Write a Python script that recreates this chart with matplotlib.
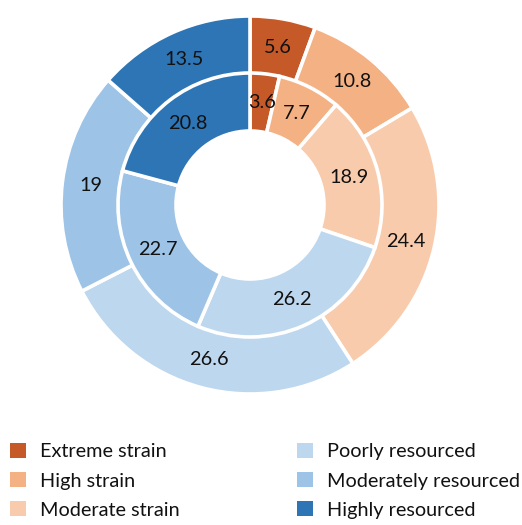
import matplotlib.pyplot as plt
from matplotlib.patches import Patch

plt.rcParams['font.family'] = ['Lato', 'DejaVu Sans']

categories = ["Extreme strain", "High strain", "Moderate strain",
              "Poorly resourced", "Moderately resourced", "Highly resourced"]
outer_vals = [5.6, 10.8, 24.4, 26.6, 19, 13.5]
inner_vals = [3.6, 7.7, 18.9, 26.2, 22.7, 20.8]
colors = ["#c55a28", "#f4b183", "#f8cbad", "#bdd7ee", "#9dc3e6", "#2e75b6"]

W, H = 522, 525
fig = plt.figure(figsize=(W / 100, H / 100), dpi=100)

# pie centre (250, 205) px from top-left, outer radius 189 px
cx, cy, R = 250, 205, 189
ax = fig.add_axes([(cx - R) / W, (H - cy - R) / H, 2 * R / W, 2 * R / H])

r_in = 132 / R
wedge = dict(edgecolor="white", linewidth=2.6)
txt = dict(fontsize=14.3, color="#111111", ha="center", va="center")

ax.pie(outer_vals, radius=1.0, colors=colors, startangle=90, counterclock=False,
       labels=[f"{v:g}" for v in outer_vals], labeldistance=0.847,
       textprops=txt, wedgeprops=dict(width=1 - r_in + 0.005, **wedge))
ax.pie(inner_vals, radius=r_in, colors=colors, startangle=90, counterclock=False,
       labels=[f"{v:g}" for v in inner_vals], labeldistance=0.78,
       textprops=txt, wedgeprops=dict(width=(132 - 74) / R, **wedge))
ax.set_xlim(-1, 1)
ax.set_ylim(-1, 1)
ax.set_aspect("equal")
ax.axis("off")

handles = [Patch(facecolor=c, edgecolor="none") for c in colors]
leg_kw = dict(frameon=False, fontsize=14.3, handlelength=0.8, handleheight=0.8,
              handletextpad=0.7, labelspacing=0.58, borderpad=0, borderaxespad=0,
              loc="upper left", labelcolor="#111111")
leg1 = fig.legend(handles[:3], categories[:3], bbox_to_anchor=(10 / W, 1 - 443 / H), **leg_kw)
leg2 = fig.legend(handles[3:], categories[3:], bbox_to_anchor=(297 / W, 1 - 443 / H), **leg_kw)

fig.savefig("out.png", dpi=100)
